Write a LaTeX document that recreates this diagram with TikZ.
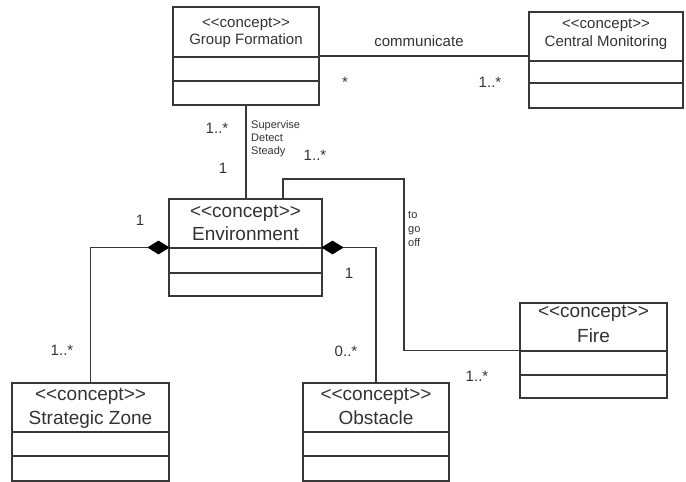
\documentclass[tikz,border=0pt]{standalone}
\usepackage{fontspec}
\newfontfamily\umlfont{Liberation Sans}
\usetikzlibrary{shapes.geometric}

% horizontal compartment separator across a class box
\newcommand\compline[2]{\draw[umlline] (#1.west |- 0,#2) -- (#1.east |- 0,#2);}

\begin{document}
\begin{tikzpicture}[x=1pt,y=-1pt,
  umlline/.style={draw=black!78, line width=1.1pt},
  classbox/.style={umlline, rectangle, fill=white, inner sep=0pt, outer sep=0pt},
  lbl/.style={inner sep=0pt, anchor=base, text=black!80, font=\umlfont\fontsize{15}{17}\selectfont},
  biglbl/.style={lbl, font=\umlfont\fontsize{19}{22}\selectfont},
  smalllbl/.style={lbl, anchor=base west, font=\umlfont\fontsize{11}{13}\selectfont},
  composite/.style={diamond, fill=black, draw=black, line width=0.6pt, inner sep=0pt, outer sep=0pt,
    minimum width=21, minimum height=13}
]
\path[use as bounding box, fill=white] (0,0) rectangle (686,482);

% ---- class boxes ----
\node[classbox, minimum width=146, minimum height=98] (gf) at (246,56) {};
\compline{gf}{57}\compline{gf}{81}
\node[lbl] (gf-s) at (246,27) {<{}<concept>{}>};
\node[lbl] (gf-n) at (246,44) {Group Formation};

\node[classbox, minimum width=154, minimum height=96] (cm) at (606,60) {};
\compline{cm}{61}\compline{cm}{83}
\node[lbl] (cm-s) at (606,28) {<{}<concept>{}>};
\node[lbl] (cm-n) at (606,46) {Central Monitoring};

\node[classbox, minimum width=153, minimum height=97] (env) at (245.5,247.5) {};
\compline{env}{248}\compline{env}{273}
\node[biglbl] (env-s) at (245.5,217) {<{}<concept>{}>};
\node[biglbl] (env-n) at (245.5,240) {Environment};

\node[classbox, minimum width=147, minimum height=95] (fire) at (593.5,350.5) {};
\compline{fire}{351}\compline{fire}{375}
\node[biglbl] (fire-s) at (593.5,317) {<{}<concept>{}>};
\node[biglbl] (fire-n) at (593.5,342) {Fire};

\node[classbox, minimum width=157, minimum height=98] (sz) at (90.5,432) {};
\compline{sz}{432}\compline{sz}{456}
\node[biglbl] (sz-s) at (90.5,400) {<{}<concept>{}>};
\node[biglbl] (sz-n) at (90.5,424) {Strategic Zone};

\node[classbox, minimum width=146, minimum height=98] (ob) at (376,432) {};
\compline{ob}{432}\compline{ob}{456}
\node[biglbl] (ob-s) at (376,400) {<{}<concept>{}>};
\node[biglbl] (ob-n) at (376,424) {Obstacle};

% ---- composition diamonds on Environment ----
\node[composite, anchor=east] (dl) at (env.west) {};
\node[composite, anchor=west] (dr) at (env.east) {};

% ---- connectors ----
\draw[umlline] (gf.east) -- (gf.east -| cm.west);
\draw[umlline] (gf.south) -- (gf.south |- env.north);
\coordinate (envtap) at ([xshift=37.5pt]env.north);
\coordinate (bend) at (404,179);
\draw[umlline] (envtap) |- (bend) |- (fire.west);
\draw[umlline] (dl.west) -| (sz.north);
\draw[umlline] (dr.east) -| (ob.north);

% ---- association labels and multiplicities ----
\node[lbl] (l-comm) at (419,46) {communicate};
\node[lbl] (m-gf-cm) at (345,87) {*};
\node[lbl] (m-cm) at (490,87) {1..*};
\node[lbl] (m-gf) at (217,133) {1..*};
\node[lbl] (m-env-top) at (223,173) {1};
\node[smalllbl] (l-sup) at (251,128) {Supervise};
\node[smalllbl] (l-det) at (251,141) {Detect};
\node[smalllbl] (l-std) at (251,154) {Steady};
\node[lbl] (m-env-fire) at (315,160) {1..*};
\node[lbl] (m-dl) at (140,225) {1};
\node[lbl] (m-dr) at (349,278) {1};
\node[smalllbl] (l-to) at (408,218) {to};
\node[smalllbl] (l-go) at (408,232) {go};
\node[smalllbl] (l-off) at (408,246) {off};
\node[lbl] (m-sz) at (62,355) {1..*};
\node[lbl] (m-ob) at (346,356) {0..*};
\node[lbl] (m-fire) at (477,381) {1..*};
\end{tikzpicture}
\end{document}
